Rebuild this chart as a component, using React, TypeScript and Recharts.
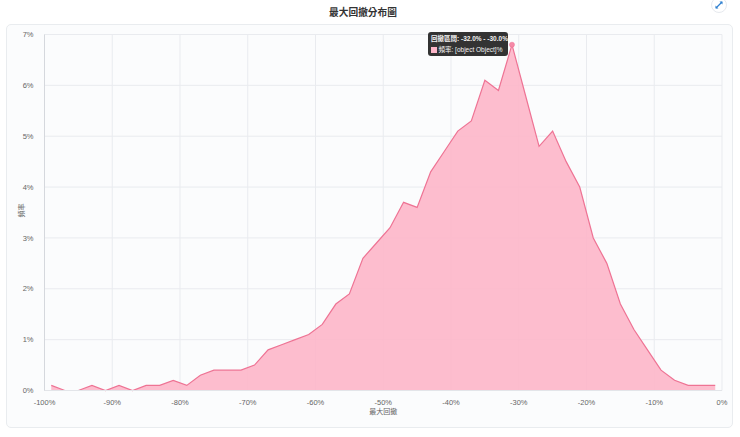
import React from "react";
import { AreaChart, Area, XAxis, YAxis, CartesianGrid, Tooltip } from "recharts";

const midpoints = [-99,-97,-95,-93,-91,-89,-87,-85,-83,-81,-79,-77,-75,-73,-71,-69,-67,-65,-63,-61,-59,-57,-55,-53,-51,-49,-47,-45,-43,-41,-39,-37,-35,-33,-31,-29,-27,-25,-23,-21,-19,-17,-15,-13,-11,-9,-7,-5,-3,-1];
const frequency = [0.1,0,0,0.1,0,0.1,0,0.1,0.1,0.2,0.1,0.3,0.4,0.4,0.4,0.5,0.8,0.9,1.0,1.1,1.3,1.7,1.9,2.6,2.9,3.2,3.7,3.6,4.3,4.7,5.1,5.3,6.1,5.9,6.8,5.8,4.8,5.1,4.5,4.0,3.0,2.5,1.7,1.2,0.8,0.4,0.2,0.1,0.1,0.1];
const xTicks = [-100,-90,-80,-70,-60,-50,-40,-30,-20,-10,0];
const yTicks = [0,1,2,3,4,5,6,7];
const data = midpoints.map((x, i) => ({ x, y: frequency[i] }));
const FONT = "'Helvetica Neue', 'Liberation Sans', 'Noto Sans CJK TC', sans-serif";

const TipBox = () => (
  <div style={{ background: "rgba(40,40,40,0.95)", borderRadius: 3, color: "#f2f2f2", fontSize: 6.5, lineHeight: "10.5px", padding: "2px 3px", width: 80, height: 24, boxSizing: "border-box", whiteSpace: "nowrap", overflow: "hidden", fontFamily: FONT }}>
    <div style={{ fontWeight: 700 }}>回撤區間: -32.0% - -30.0%</div>
    <div style={{ display: "flex", alignItems: "center" }}>
      <span style={{ display: "inline-block", flex: "0 0 6px", width: 6, height: 6, background: "#fdb6c9", marginRight: 1.5 }} />
      <span>頻率: [object Object]%</span>
    </div>
  </div>
);

export default function App() {
  return (
    <div style={{ position: "absolute", left: 0, top: 0, width: 740, height: 437, background: "#fff", overflow: "hidden", fontFamily: FONT }}>
      <div style={{ position: "absolute", left: 6, top: 24, width: 727, height: 404, background: "#fbfcfd", border: "1px solid #e9ecef", borderRadius: 5, boxSizing: "border-box" }} />
      <div style={{ position: "absolute", left: 329, width: 68, top: 5, textAlign: "center", fontSize: 9.7, fontWeight: 700, color: "#333", whiteSpace: "nowrap" }}>最大回撤分布圖</div>
      <div style={{ position: "absolute", left: 711, top: -3, width: 16, height: 16, borderRadius: 8, background: "#fff", border: "1px solid #e6e9ee", boxSizing: "border-box" }}>
        <svg width="14" height="14" viewBox="0 0 14 14">
          <path d="M4 10 L10 4" stroke="#2f80d0" strokeWidth="1.2" />
          <path d="M7.5 3.5 H10.5 V6.5 Z M3.5 7.5 V10.5 H6.5 Z" fill="#2f80d0" />
        </svg>
      </div>
      <div style={{ position: "absolute", left: 0, top: 0 }}>
        <AreaChart width={740} height={437} data={data} margin={{ top: 34.5, right: 18, bottom: 0, left: 0 }}>
          <CartesianGrid stroke="#e9ebef" strokeWidth={1} verticalValues={xTicks} horizontalValues={yTicks} />
          <XAxis dataKey="x" type="number" domain={[-100, 0]} ticks={xTicks} tickFormatter={(v: number) => `${v}%`} height={46.5} interval={0}
            tick={{ fontSize: 7.5, fill: "#666" }} tickLine={false} axisLine={{ stroke: "#e3e5e9" }} tickMargin={3}
            label={{ value: "最大回撤", position: "insideBottom", offset: 23, fontSize: 7, fill: "#666" }} />
          <YAxis type="number" domain={[0, 7]} ticks={yTicks} tickFormatter={(v: number) => `${v}%`} width={44.5}
            tick={{ fontSize: 7.5, fill: "#666" }} tickLine={false} axisLine={{ stroke: "#d5d8dd" }} tickMargin={5}
            label={{ value: "頻率", angle: -90, position: "insideLeft", offset: 22, dy: 5, fontSize: 7, fill: "#666" }} />
          <Tooltip defaultIndex={34} active cursor={false} position={{ x: 428, y: 32 }} content={<TipBox />} isAnimationActive={false}
            wrapperStyle={{ outline: "none" }} allowEscapeViewBox={{ x: true, y: true }} />
          <Area type="linear" dataKey="y" stroke="#ee7394" strokeWidth={1.2} fill="#fdb6c9" fillOpacity={0.9}
            isAnimationActive={false} dot={false} activeDot={{ r: 2.5, fill: "#f58aa8", stroke: "#ee6a8c", strokeWidth: 0.5 }} />
        </AreaChart>
      </div>
    </div>
  );
}
